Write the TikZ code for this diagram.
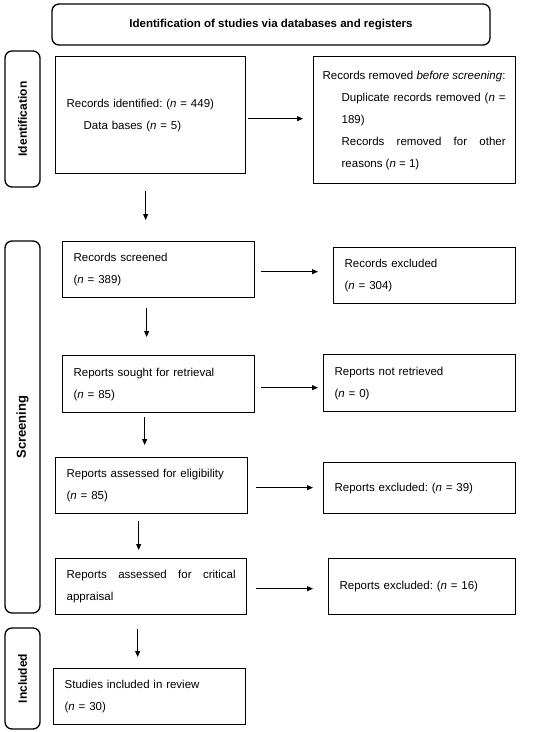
\documentclass[tikz,border=0pt]{standalone}
\usepackage{fontspec}
\setmainfont{Liberation Sans}
\usetikzlibrary{arrows.meta}
\tikzset{
  box/.style={draw, line width=1.3pt, anchor=north west, inner xsep=11pt, inner ysep=0pt,
    align=left, font=\fontsize{11.5}{22}\selectfont\frenchspacing},
  phase/.style={draw, line width=1.3pt, rounded corners=7pt, inner sep=0pt,
    font=\bfseries\fontsize{12}{14}\selectfont},
  flow/.style={-{Triangle[length=6pt,width=5pt]}, line width=0.8pt},
}
\begin{document}
\begin{tikzpicture}[x=1pt, y=-1pt]
  \useasboundingbox (0,0) rectangle (550,732);
  \node[phase, minimum width=438pt, minimum height=41pt, font=\bfseries\fontsize{11.5}{14}\selectfont] (head) at (271,24.5)
    {Identification of studies via databases and registers};
  \node[phase, rotate=90, minimum width=136pt, minimum height=35pt] (idside) at (22.5,119) {Identification};
  \node[phase, rotate=90, minimum width=372pt, minimum height=35pt, font=\bfseries\fontsize{13}{14}\selectfont] (scside) at (22.5,427) {Screening};
  \node[phase, rotate=90, minimum width=101pt, minimum height=35pt] (inside) at (22.5,678.5) {Included};

  \node[box, minimum width=190pt, minimum height=117pt, text width=168pt] (ident) at (55,56)
    {Records identified: (\textit{n} = 449)\\\hspace*{17pt}Data bases (\textit{n} = 5)};
  \node[box, inner xsep=9pt, minimum width=202pt, minimum height=127pt, text width=184pt] (removed) at (313,56)
    {\spaceskip=0pt\xspaceskip=0pt
     \mbox{Records removed \textit{before screening}:}\\
     \hspace*{19pt}\makebox[164pt][s]{Duplicate records removed (\textit{n} =}\\
     \hspace*{19pt}189)\\
     \hspace*{19pt}\makebox[164pt][s]{Records removed for other}\\
     \hspace*{19pt}reasons (\textit{n} = 1)};
  \node[box, minimum width=192pt, minimum height=56pt, text width=170pt] (screened) at (62,241)
    {Records screened\\(\textit{n} = 389)};
  \node[box, minimum width=182pt, minimum height=56pt, text width=160pt] (excluded) at (333,247)
    {Records excluded\\(\textit{n} = 304)};
  \node[box, minimum width=192pt, minimum height=57pt, text width=170pt] (sought) at (62,355)
    {Reports sought for retrieval\\(\textit{n} = 85)};
  \node[box, minimum width=192pt, minimum height=57pt, text width=170pt] (notret) at (323,354)
    {Reports not retrieved\\(\textit{n} = 0)};
  \node[box, minimum width=192pt, minimum height=56pt, text width=170pt] (elig) at (55,457)
    {Reports assessed for eligibility\\(\textit{n} = 85)};
  \node[box, minimum width=192pt, minimum height=51pt, text width=170pt] (excl39) at (323,462)
    {Reports excluded: (\textit{n} = 39)};
  \node[box, align=justify, minimum width=191pt, minimum height=56pt, text width=169pt] (critical) at (55,558)
    {Reports assessed for critical\linebreak appraisal};
  \node[box, minimum width=187pt, minimum height=56pt, text width=165pt] (excl16) at (328,558)
    {Reports excluded: (\textit{n} = 16)};
  \node[box, minimum width=192pt, minimum height=56pt, text width=170pt] (incl) at (53,668)
    {Studies included in review\\(\textit{n} = 30)};

  \draw[flow, shorten <=2pt, shorten >=10pt] ([yshift=-3.5pt]ident.east) -- ([yshift=-3.5pt]ident.east -| removed.west);
  \draw[flow, shorten <=6pt, shorten >=15pt] ([yshift=-2pt]screened.east) -- ([yshift=-2pt]screened.east -| excluded.west);
  \draw[flow, shorten <=6pt, shorten >=5pt] ([yshift=-3.5pt]sought.east) -- ([yshift=-3.5pt]sought.east -| notret.west);
  \draw[flow, shorten <=8pt, shorten >=10pt] ([yshift=-2pt]elig.east) -- ([yshift=-2pt]elig.east -| excl39.west);
  \draw[flow, shorten <=9pt, shorten >=15pt] ([yshift=-2pt]critical.east) -- ([yshift=-2pt]critical.east -| excl16.west);

  \draw[flow, shorten <=17pt, shorten >=21pt] ([xshift=-5pt]ident.south) -- ([xshift=-5pt]ident.south |- screened.north);
  \draw[flow, shorten <=10pt, shorten >=18pt] ([xshift=-12pt]screened.south) -- ([xshift=-12pt]screened.south |- sought.north);
  \draw[flow, shorten <=4pt, shorten >=12pt] ([xshift=-14pt]sought.south) -- ([xshift=-14pt]sought.south |- elig.north);
  \draw[flow, shorten <=7pt, shorten >=8pt] ([xshift=-13pt]elig.south) -- ([xshift=-13pt]elig.south |- critical.north);
  \draw[flow, shorten <=14pt, shorten >=11pt] ([xshift=-13.5pt]critical.south) -- ([xshift=-13.5pt]critical.south |- incl.north);
\end{tikzpicture}
\end{document}
